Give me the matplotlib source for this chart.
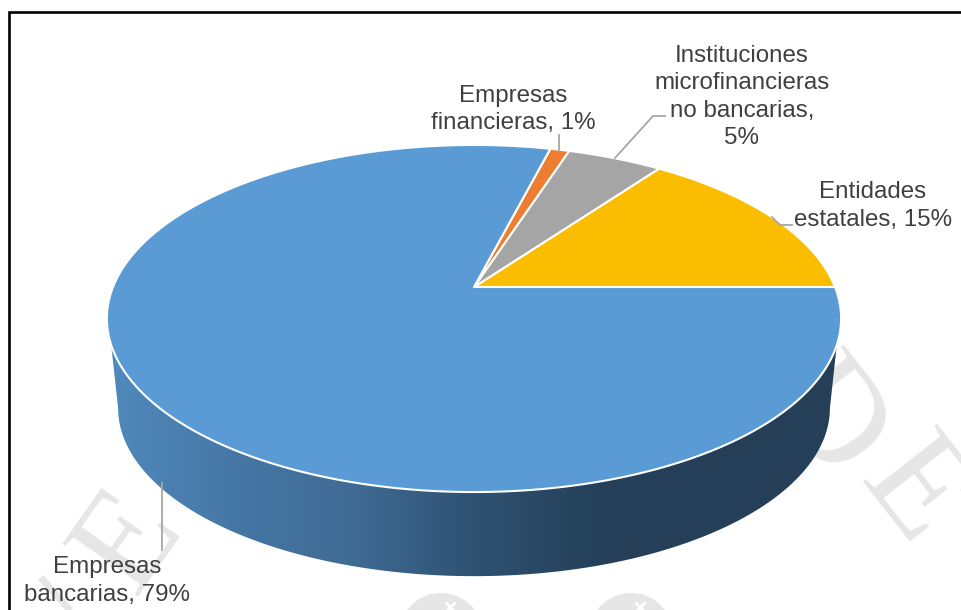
import numpy as np
import matplotlib
matplotlib.use('Agg')
import matplotlib.pyplot as plt
from matplotlib.colors import LinearSegmentedColormap
from matplotlib.patches import Polygon, Circle

plt.rcParams['font.family'] = ['Liberation Sans', 'DejaVu Sans']

# Share of each entity type, counter-clockwise from the 3 o'clock position
labels = ['Entidades\nestatales, 15%',
          'Instituciones\nmicrofinancieras\nno bancarias,\n5%',
          'Empresas\nfinancieras, 1%',
          'Empresas\nbancarias, 79%']
values = [15, 5, 1, 79]
colors = ['#fbbd00', '#a5a5a5', '#ed7d31', '#5b9bd5']

label_pos = [(873, 206), (742, 97), (513, 109.5), (107, 581)]
leaders = [[(772, 217), (780, 225), (792, 225)],
           [(615, 158), (653, 116), (665, 116)],
           [(559, 135), (559, 151)],
           [(162, 483), (162, 550)]]

# Perspective disc: apex in pixels, radii and tilt factor
cx, cy = 474, 287
a, b, k = 361, 167.8, 0.1816
# Vertical edges converge on this point, scale takes the top rim to the bottom rim
vx, vy = 474, 3250
depth = 0.9695


def rim(theta):
    w = 1 + k * np.sin(theta)
    return cx + a * np.cos(theta) / w, cy - b * np.sin(theta) / w


def bottom_rim(theta):
    x, y = rim(theta)
    return vx + depth * (x - vx), vy + depth * (y - vy)


fig = plt.figure(figsize=(9.62, 6.10), dpi=100)
ax = fig.add_axes([0, 0, 1, 1])
ax.set_xlim(0, 962)
ax.set_ylim(610, 0)
ax.axis('off')

# Faint background stamp
wm = '#e6e6e6'
ax.text(823, 423, 'D', family='Liberation Serif', fontsize=106, color=wm,
        rotation=-52, ha='center', va='center', rotation_mode='anchor', zorder=1)
ax.text(912, 495, 'E', family='Liberation Serif', fontsize=104, color=wm,
        rotation=-52, ha='center', va='center', rotation_mode='anchor', zorder=1)
ax.text(131, 543, 'E', family='Liberation Serif', fontsize=100, color=wm,
        rotation=55, ha='center', va='center', rotation_mode='anchor', zorder=1)
ax.plot([43, 68], [580, 608], color=wm, lw=5, zorder=1)
for sx in (441, 631):
    ax.add_patch(Circle((sx, 635), 42, fc=wm, ec='none', zorder=1))
    ax.plot(sx + 9, 607, marker='x', ms=7, mew=2, color='white', zorder=1)

# Side wall with horizontal shading, only the near part of the disc shows it
t_top = np.linspace(np.deg2rad(199), np.deg2rad(341), 300)
t_bot = np.linspace(np.deg2rad(-10.5), np.deg2rad(-169.5), 300)
xs = np.r_[rim(t_top)[0], bottom_rim(t_bot)[0]]
ys = np.r_[rim(t_top)[1], bottom_rim(t_bot)[1]]
wall = Polygon(np.c_[xs, ys], closed=True, fc='none', ec='none', zorder=2)
ax.add_patch(wall)
shade = LinearSegmentedColormap.from_list('wall', [
    (0.0, '#5089bc'), (0.25, '#4577a5'), (0.5, '#3f6a93'),
    (0.72, '#2f5273'), (1.0, '#243f57')])
grad = np.linspace(0, 1, 512).reshape(1, -1)
im = ax.imshow(grad, cmap=shade, extent=(110, 610, 600, 340), aspect='auto', zorder=2)
im.set_clip_path(wall)
dark = ax.fill_between([610, 840], 340, 600, color='#243f57', lw=0, zorder=2)
dark.set_clip_path(wall)
ax.set_xlim(0, 962)
ax.set_ylim(610, 0)

# Top face, one wedge per value
start = 0.0
total = sum(values)
for v, c in zip(values, colors):
    end = start + 2 * np.pi * v / total
    t = np.linspace(start, end, max(int(v * 8), 12))
    x, y = rim(t)
    ax.add_patch(Polygon(np.c_[np.r_[cx, x], np.r_[cy, y]], closed=True,
                         fc=c, ec='white', lw=1.5, joinstyle='round', zorder=3))
    start = end

for seg in leaders:
    pts = np.array(seg)
    ax.plot(pts[:, 0], pts[:, 1], color='#a6a6a6', lw=1.3, zorder=4)

for lab, (lx, ly) in zip(labels, label_pos):
    ax.text(lx, ly, lab, fontsize=17.4, color='#404040', ha='center', va='center',
            linespacing=1.33, zorder=5)

# Frame, clipped by the page on the right and bottom
ax.plot([9, 9, 962], [610, 12, 12], color='black', lw=1.9, zorder=6,
        solid_joinstyle='miter')

fig.savefig('out.png', dpi=100)
